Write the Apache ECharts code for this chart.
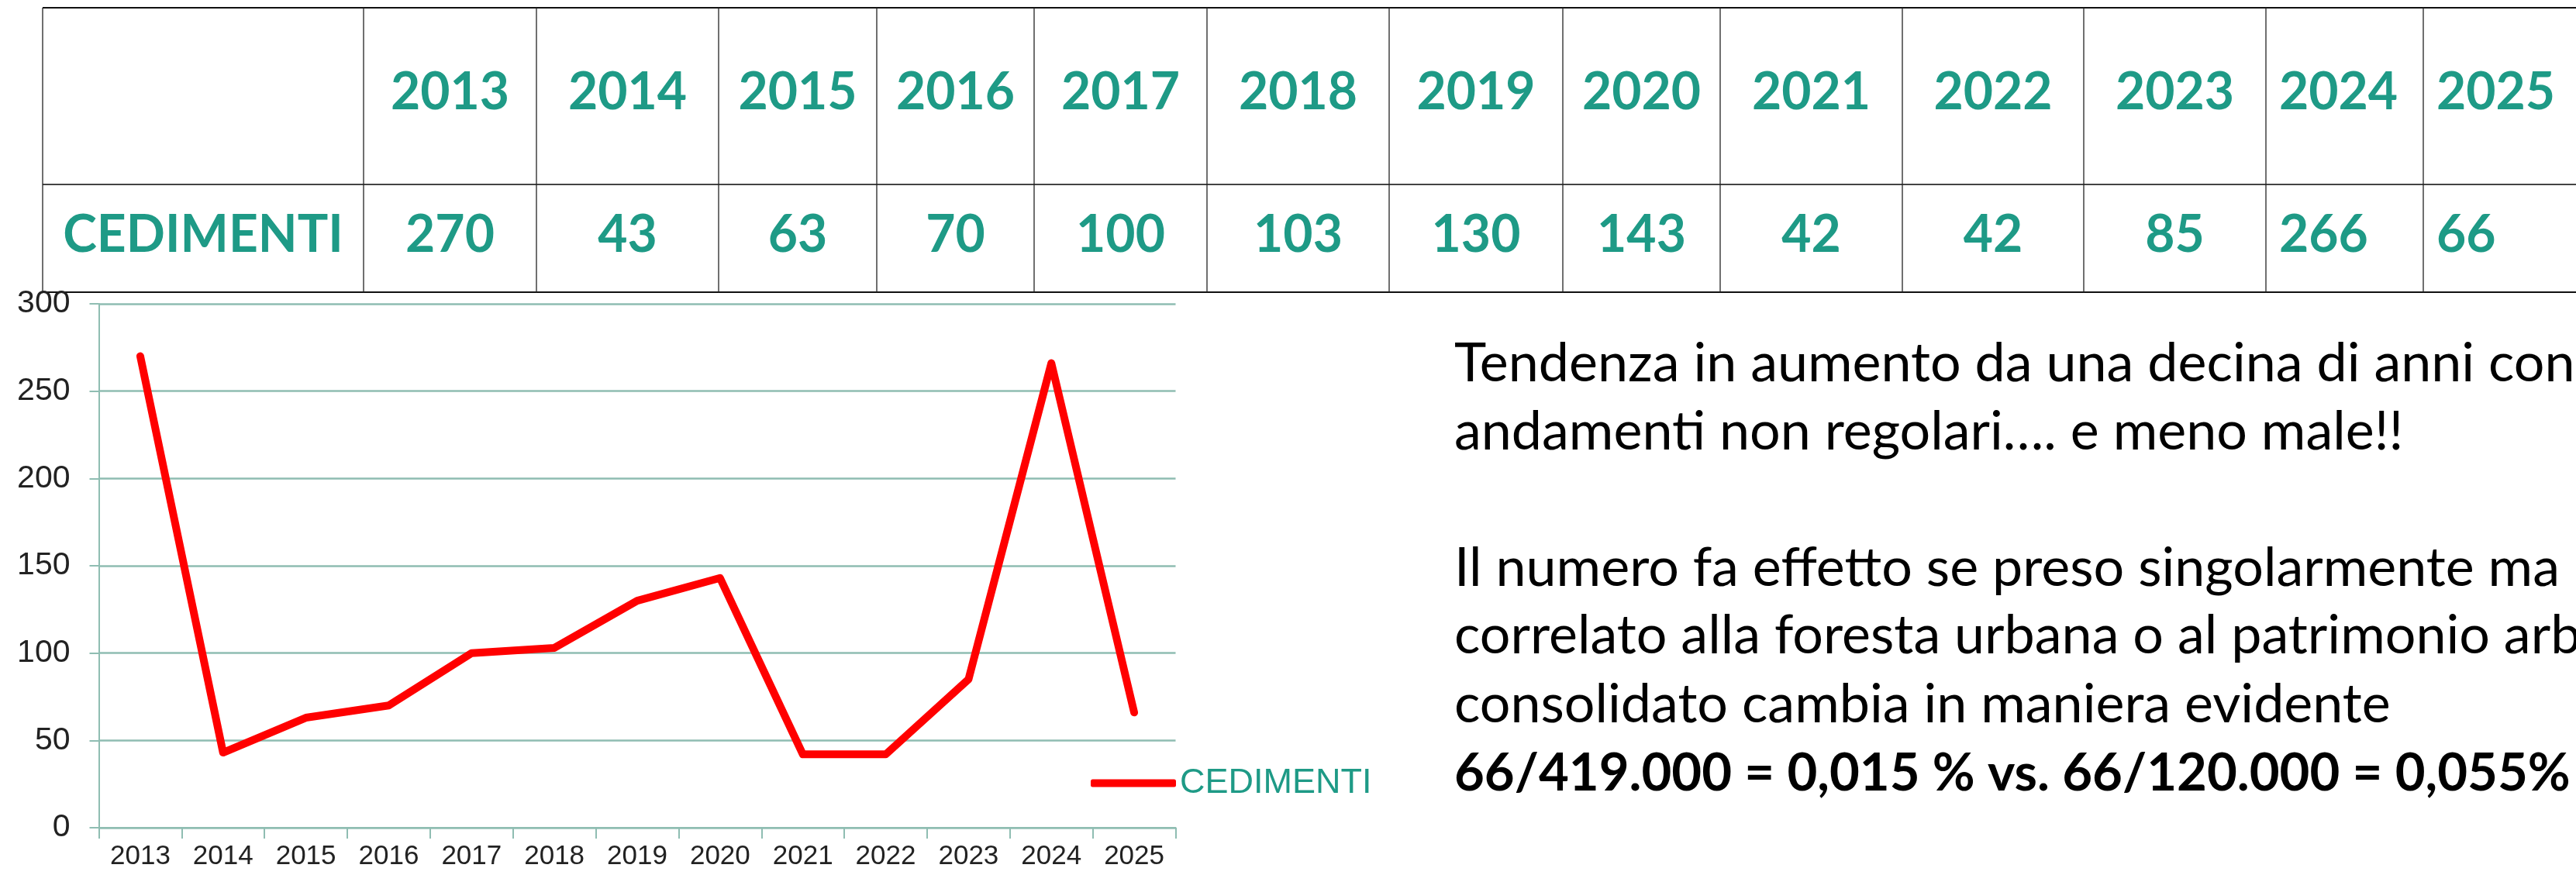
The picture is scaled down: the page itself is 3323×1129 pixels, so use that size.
<!DOCTYPE html>
<html>
	<head>
		<meta charset="utf-8">
		<title>Cedimenti</title>
		<script src="https://cdn.jsdelivr.net/npm/echarts@6/dist/echarts.min.js"></script>
		<style>
			html, body { margin: 0; padding: 0; background: #fff; }
		</style>
	</head>
	<body>
		<div id="main" style="width: 3323px;height:1129px;"></div>
		<script type="text/javascript">
			// dati
			var years = ['2013', '2014', '2015', '2016', '2017', '2018', '2019', '2020', '2021', '2022', '2023', '2024', '2025'];
			var cedimenti = [270, 43, 63, 70, 100, 103, 130, 143, 42, 42, 85, 266, 66];
			var seriesName = 'CEDIMENTI';
			var yTicks = [0, 50, 100, 150, 200, 250, 300];
			var noteLines = [
				'Tendenza in aumento da una decina di anni con',
				'andamenti non regolari…. e meno male!!',
				'Il numero fa effetto se preso singolarmente ma',
				'correlato alla foresta urbana o al patrimonio arboreo',
				'consolidato cambia in maniera evidente'
			];
			var noteBold = '66/419.000 = 0,015 % vs. 66/120.000 = 0,055%';

			var teal = '#1e9a86';
			var gridCol = '#8fbdb2';

			// tabella in alto (bordi delle colonne)
			var colX = [55, 469, 692, 927, 1131, 1334, 1557, 1792, 2016, 2219, 2454, 2688, 2923, 3126, 3360];
			var rowY = [10, 238, 377];
			var leftAligned = { '2024': true, '2025': true };

			var graphics = [];
			rowY.forEach(function(y, i) {
				graphics.push({
					type: 'line',
					shape: { x1: colX[0], y1: y, x2: colX[colX.length - 1], y2: y },
					style: { stroke: i === 1 ? '#444' : '#111', lineWidth: 2 }
				});
			});
			colX.forEach(function(x) {
				graphics.push({
					type: 'line',
					shape: { x1: x, y1: rowY[0], x2: x, y2: rowY[2] },
					style: { stroke: '#222', lineWidth: 1.3 }
				});
			});
			var cellFont = { fontFamily: 'Lato', fontWeight: 'bold', fontSize: 66, fill: teal };
			function cellText(txt, col, cy, key) {
				var left = leftAligned[key];
				var x = left ? colX[col] + 17 : (colX[col] + colX[col + 1]) / 2;
				graphics.push({
					type: 'text',
					x: x,
					y: cy,
					style: Object.assign({ text: txt, align: left ? 'left' : 'center', verticalAlign: 'middle' }, cellFont)
				});
			}
			cellText(seriesName, 0, 304, '');
			years.forEach(function(yr, i) {
				cellText(yr, i + 1, 120, yr);
				cellText(String(cedimenti[i]), i + 1, 304, yr);
			});

			// testo a destra (linee di base)
			var noteBase = [492, 580, 756, 843, 932];
			noteLines.forEach(function(t, i) {
				graphics.push({
					type: 'text',
					x: 1876,
					y: noteBase[i] - 23,
					style: { text: t, fontFamily: 'Lato', fontSize: 70, fill: '#000', align: 'left', verticalAlign: 'middle' }
				});
			});
			graphics.push({
				type: 'text',
				x: 1876,
				y: 1020 - 22,
				style: { text: noteBold, fontFamily: 'Lato', fontWeight: 'bold', fontSize: 67, fill: '#000', align: 'left', verticalAlign: 'middle' }
			});

			var myChart = echarts.init(document.getElementById('main'));
			var option = {
				animation: false,
				textStyle: { fontFamily: 'Liberation Sans' },
				graphic: graphics,
				legend: {
					data: [seriesName],
					left: 1402,
					top: 983,
					icon: 'roundRect',
					itemWidth: 110,
					itemHeight: 10,
					itemGap: 8,
					textStyle: { color: teal, fontSize: 45, fontFamily: 'Liberation Sans' }
				},
				grid: {
					left: 127.5,
					right: 1806.5,
					top: 392,
					bottom: 61,
					containLabel: false
				},
				xAxis: {
					type: 'category',
					data: years,
					boundaryGap: true,
					axisLine: { lineStyle: { color: gridCol, width: 2 } },
					axisTick: { show: true, length: 14, lineStyle: { color: gridCol, width: 2 } },
					axisLabel: { color: '#222', fontSize: 35, margin: 20, interval: 0 }
				},
				yAxis: {
					type: 'value',
					min: yTicks[0],
					max: yTicks[yTicks.length - 1],
					interval: 50,
					axisLine: { show: true, lineStyle: { color: gridCol, width: 2 } },
					axisTick: { show: true, length: 12, lineStyle: { color: gridCol, width: 2 } },
					axisLabel: { color: '#222', fontSize: 41, margin: 37 },
					splitLine: { lineStyle: { color: gridCol, width: 2.5 } }
				},
				series: [{
					name: seriesName,
					type: 'line',
					data: cedimenti,
					showSymbol: false,
					symbol: 'none',
					itemStyle: { color: '#ff0000' },
					lineStyle: { color: '#ff0000', width: 10, cap: 'round', join: 'round' }
				}]
			};
			myChart.setOption(option);
		</script>
	</body>
</html>
